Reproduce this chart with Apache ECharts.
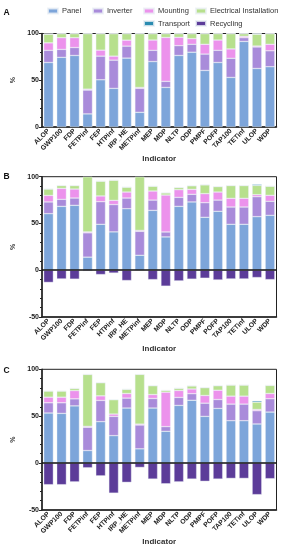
<!DOCTYPE html>
<html>
<head>
<meta charset="utf-8">
<script src="https://cdn.jsdelivr.net/npm/echarts@6/dist/echarts.min.js"></script>
<style>
html,body{margin:0;padding:0;background:#fff;}
#c{width:284px;height:550px;}
</style>
</head>
<body>
<div id="c"></div>
<script>
var categories = ['ALOP','GWP100','FDP','FETPinf','FEP','HTPinf','IRP_HE','METPinf','MEP','MDP','NLTP','ODP','PMPF','POFP','TAP100','TETinf','ULOP','WDP'];
var yTicksA = [0, 50, 100];
var yTicksBC = [-50, 0, 50, 100];

var panelA = [69, 74.5, 76.5, 14, 50.5, 41.3, 73.7, 15.7, 70, 42.3, 76.5, 80, 60.5, 69, 53, 91.5, 62.6, 64.5];
var invA   = [13, 8.5, 8.5, 25.5, 25.3, 30.2, 12.8, 25.6, 12, 6.5, 10.5, 8.5, 17.5, 13, 20.5, 4, 23, 17];
var mountA = [8, 12.5, 10.5, 1, 6.4, 4.3, 6.4, 1, 11, 47, 9, 6, 10.5, 11, 10, 1.5, 1, 7];
var elecA  = [9.3, 4.3, 4.3, 59.3, 17.6, 24, 6.9, 57.5, 6.8, 4, 3.8, 5.3, 11.3, 6.8, 16.3, 2.8, 12.6, 11.3];
var transA = [0.2, 0.2, 0.2, 0.2, 0.2, 0.2, 0.2, 0.2, 0.2, 0.2, 0.2, 0.2, 0.2, 0.2, 0.2, 0.2, 0.8, 0.2];
var recA   = [0, 0, 0, 0, 0, 0, 0, 0, 0, 0, 0, 0, 0, 0, 0, 0, 0, 0];

var panelB = [60.5, 68.3, 69.4, 14, 49.1, 41, 65.8, 16, 64, 35.6, 68.3, 73, 56.6, 63, 49.1, 49.1, 57.3, 58.7];
var invB   = [12.5, 7.5, 7.8, 26, 24.2, 29.2, 11.4, 25.6, 11, 5.3, 9.6, 8.2, 15.6, 12, 18.5, 18.5, 21.3, 15];
var mountB = [7, 11.7, 9.6, 1, 6.1, 4.5, 6.4, 1, 9.7, 39.5, 8.2, 5.3, 9.7, 8.6, 9.3, 9.3, 2.2, 6.4];
var elecB  = [6.8, 3, 3.7, 59, 15.8, 21.5, 5.2, 57.4, 5.1, 2.3, 2.3, 3.8, 9.4, 5.8, 13.6, 13.6, 9.9, 9.7];
var transB = [0.2, 0.2, 0.2, 0.2, 0.2, 0.2, 0.2, 0.2, 0.2, 0.2, 0.2, 0.2, 0.2, 0.2, 0.2, 0.2, 1.1, 0.2];
var recB   = [-13, -9.3, -9.5, -1, -4.6, -3, -11, -0.5, -10, -17, -11.4, -9.5, -8.5, -10.4, -9.3, -9.3, -7.8, -10];

var panelC = [53.4, 53, 61, 13.4, 44.2, 29.3, 58.7, 15.2, 58.7, 33.9, 61.5, 67, 49.8, 58.3, 45.2, 45.2, 41.7, 54.4];
var invC   = [10.9, 11.3, 7.5, 24.8, 22.6, 20.5, 10.6, 25.4, 10.2, 5, 8.5, 7, 14.1, 9.5, 17.7, 17.7, 14.1, 14.2];
var mountC = [6, 6, 8.8, 1, 4.9, 2.5, 4.9, 1, 4.2, 36.7, 7.4, 5, 8.2, 9.9, 8.5, 8.5, 1.4, 5.6];
var elecC  = [6.5, 6.5, 2.3, 55.3, 14, 15.3, 4.4, 53, 9.4, 1.9, 2.3, 3.3, 8.3, 4.8, 11.8, 11.8, 7.8, 8.6];
var transC = [0.2, 0.2, 0.2, 0.2, 0.2, 0.2, 0.4, 0.2, 0.2, 0.2, 0.2, 0.2, 0.2, 0.2, 0.2, 0.2, 1.4, 0.2];
var recC   = [-23, -23, -20, -5, -13.6, -32, -20.5, -4.6, -17, -22, -20, -17, -19.4, -17, -16.3, -16.3, -33.6, -16.6];

var seriesNames = ['Panel','Inverter','Mounting','Electrical Installation','Transport','Recycling'];
var colors = ['#7da5da','#a98bda','#ec92ec','#b7e08d','#2a8bb0','#5c3c99'];

var font = '"Liberation Sans", Arial, sans-serif';
var grids = [
  {left: 42, top: 33.5, width: 234.5, height: 93.5},
  {left: 42, top: 176.7, width: 234.5, height: 140.3},
  {left: 42, top: 369.3, width: 234.5, height: 140.7}
];
var panels = [
  [panelA, invA, mountA, elecA, transA, recA],
  [panelB, invB, mountB, elecB, transB, recB],
  [panelC, invC, mountC, elecC, transC, recC]
];

var xAxes = [], yAxes = [], series = [];
grids.forEach(function(g, i){
  g.show = true; g.borderColor = '#222'; g.borderWidth = 1; g.backgroundColor = 'transparent';
  xAxes.push({
    type: 'category', gridIndex: i, data: categories,
    name: 'Indicator', nameLocation: 'middle', nameGap: 27,
    nameTextStyle: {fontFamily: font, fontWeight: 'bold', fontSize: 8, color: '#333'},
    axisLine: {onZero: false, lineStyle: {color: '#222', width: 1.5}},
    axisTick: {alignWithLabel: true, length: 3, lineStyle: {color: '#222'}},
    axisLabel: {rotate: 45, fontFamily: font, fontWeight: 'bold', fontSize: 6.8, color: '#222', margin: 3, interval: 0},
    splitLine: {show: false}
  });
  var ticks = i === 0 ? yTicksA : yTicksBC;
  yAxes.push({
    type: 'value', gridIndex: i, min: ticks[0], max: ticks[ticks.length - 1], interval: 50,
    name: '%', nameLocation: 'middle', nameGap: 22,
    nameTextStyle: {fontFamily: font, fontSize: 7, fontWeight: 'bold', color: '#333'},
    axisLine: {show: true, lineStyle: {color: '#222', width: 1.5}},
    axisTick: {show: true, length: 3, lineStyle: {color: '#222'}},
    minorTick: {show: true, splitNumber: 5, length: 2, lineStyle: {color: '#222'}},
    axisLabel: {fontFamily: font, fontWeight: 'bold', fontSize: 7, color: '#222', margin: 3},
    splitLine: {show: false}
  });
  panels[i].forEach(function(arr, k){
    var s = {
      name: seriesNames[k], type: 'bar', xAxisIndex: i, yAxisIndex: i,
      stack: 'p' + i, data: arr, barCategoryGap: '26%',
      itemStyle: {color: colors[k], borderColor: 'rgba(235,240,245,0.8)', borderWidth: 0.5},
      emphasis: {disabled: true}
    };
    if (k === 0 && i > 0) {
      s.markLine = {
        silent: true, symbol: 'none', label: {show: false},
        lineStyle: {color: '#111', width: 1.5, type: 'solid'},
        data: [{yAxis: 0}], animation: false
      };
    }
    series.push(s);
  });
});

var legendPos = [
  {name: 'Panel', left: 47, top: 7},
  {name: 'Inverter', left: 92, top: 7},
  {name: 'Mounting', left: 143, top: 7},
  {name: 'Electrical Installation', left: 195, top: 7},
  {name: 'Transport', left: 143, top: 19.5},
  {name: 'Recycling', left: 195, top: 19.5}
];
var legends = legendPos.map(function(l){
  return {
    data: [l.name], left: l.left, top: l.top, padding: 0,
    itemWidth: 10, itemHeight: 5, itemGap: 4,
    textStyle: {fontFamily: font, fontSize: 7.5, color: '#333', padding: [0,0,0,-1]},
    icon: 'rect', selectedMode: false
  };
});

var titles = [
  {text: 'A', left: 3.5, top: 8.5},
  {text: 'B', left: 3.5, top: 172.5},
  {text: 'C', left: 3.5, top: 366}
].map(function(t){
  t.padding = 0;
  t.textStyle = {fontFamily: font, fontWeight: 'bold', fontSize: 8.5, color: '#111'};
  return t;
});

var chart = echarts.init(document.getElementById('c'), null, {renderer: 'canvas'});
chart.setOption({
  animation: false,
  title: titles,
  legend: legends,
  grid: grids,
  xAxis: xAxes,
  yAxis: yAxes,
  series: series
});
</script>
</body>
</html>
